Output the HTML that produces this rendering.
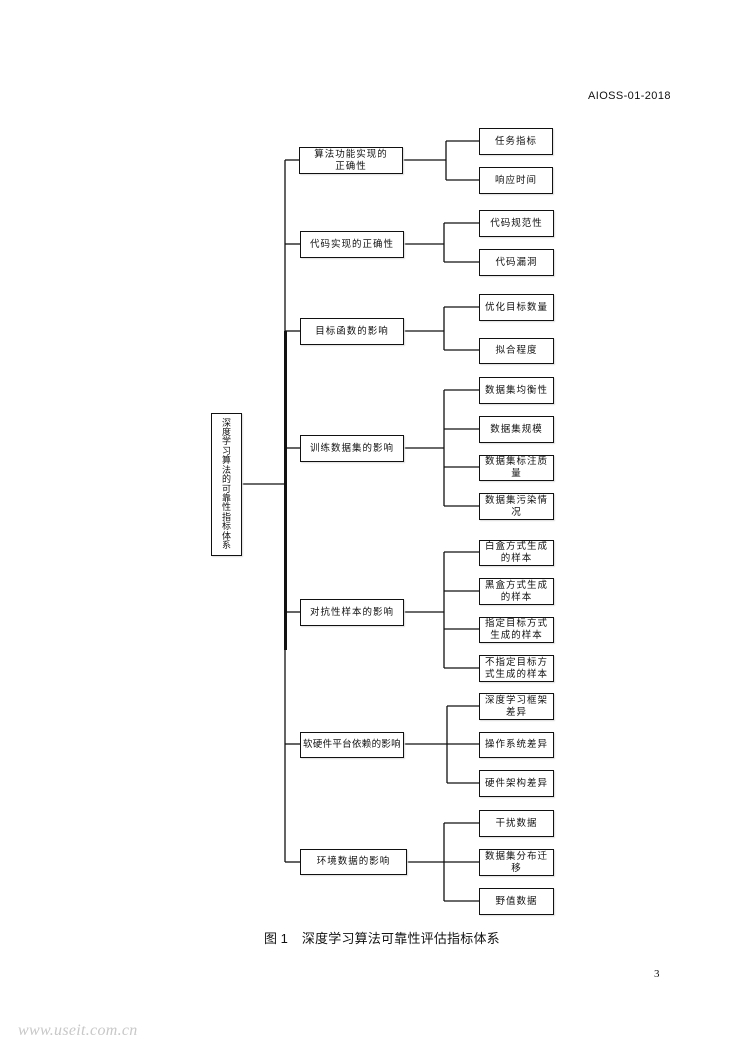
<!DOCTYPE html>
<html><head><meta charset="utf-8">
<style>
html,body{margin:0;padding:0;background:#fff;}
#p{position:relative;width:744px;height:1052px;overflow:hidden;background:#fff;font-family:"Liberation Sans","Noto Sans CJK SC",sans-serif;color:#111;}
.b{position:absolute;box-sizing:border-box;border:1.3px solid #111;background:#fff;display:flex;align-items:center;justify-content:center;text-align:center;font-size:9.5px;line-height:12px;letter-spacing:1px;box-shadow:1px 1px 1px #ddd;white-space:nowrap;}
svg{position:absolute;left:0;top:0;}
</style></head><body><div id="p">
<div style="position:absolute;left:588px;top:90px;font-size:11px;letter-spacing:0.4px;">AIOSS-01-2018</div>

<svg width="744" height="1052" stroke="#111" stroke-width="1.3" fill="none">
<line x1="285" y1="160" x2="285" y2="862"/>
<line x1="285.5" y1="331" x2="285.5" y2="650" stroke-width="3"/>
<line x1="241" y1="484" x2="285" y2="484"/>
<line x1="285" y1="160" x2="300" y2="160"/>
<line x1="285" y1="244" x2="300" y2="244"/>
<line x1="285" y1="331" x2="300" y2="331"/>
<line x1="285" y1="448" x2="300" y2="448"/>
<line x1="285" y1="612" x2="300" y2="612"/>
<line x1="285" y1="744" x2="300" y2="744"/>
<line x1="285" y1="862" x2="300" y2="862"/>
<line x1="402" y1="160" x2="446" y2="160"/><line x1="446" y1="141" x2="446" y2="180"/>
<line x1="446" y1="141" x2="479" y2="141"/><line x1="446" y1="180" x2="479" y2="180"/>
<line x1="403" y1="244" x2="444" y2="244"/><line x1="444" y1="223" x2="444" y2="262"/>
<line x1="444" y1="223" x2="479" y2="223"/><line x1="444" y1="262" x2="479" y2="262"/>
<line x1="403" y1="331" x2="444" y2="331"/><line x1="444" y1="307" x2="444" y2="350"/>
<line x1="444" y1="307" x2="479" y2="307"/><line x1="444" y1="350" x2="479" y2="350"/>
<line x1="403" y1="448" x2="444" y2="448"/><line x1="444" y1="390" x2="444" y2="506"/>
<line x1="444" y1="390" x2="479" y2="390"/><line x1="444" y1="429" x2="479" y2="429"/>
<line x1="444" y1="467" x2="479" y2="467"/><line x1="444" y1="506" x2="479" y2="506"/>
<line x1="403" y1="612" x2="444" y2="612"/><line x1="444" y1="552" x2="444" y2="668"/>
<line x1="444" y1="552" x2="479" y2="552"/><line x1="444" y1="591" x2="479" y2="591"/>
<line x1="444" y1="629" x2="479" y2="629"/><line x1="444" y1="668" x2="479" y2="668"/>
<line x1="403" y1="744" x2="447" y2="744"/><line x1="447" y1="706" x2="447" y2="783"/>
<line x1="447" y1="706" x2="479" y2="706"/><line x1="447" y1="744" x2="479" y2="744"/>
<line x1="447" y1="783" x2="479" y2="783"/>
<line x1="406" y1="862" x2="479" y2="862"/><line x1="444" y1="823" x2="444" y2="901"/>
<line x1="444" y1="823" x2="479" y2="823"/><line x1="444" y1="901" x2="479" y2="901"/>
</svg>

<div class="b" style="left:211px;top:413px;width:31px;height:143px;line-height:9.4px;font-size:9px;letter-spacing:0;">深<br>度<br>学<br>习<br>算<br>法<br>的<br>可<br>靠<br>性<br>指<br>标<br>体<br>系</div>

<div class="b" style="left:299px;top:147px;width:104px;height:27px;">算法功能实现的<br>正确性</div>
<div class="b" style="left:300px;top:231px;width:104px;height:27px;">代码实现的正确性</div>
<div class="b" style="left:300px;top:318px;width:104px;height:27px;">目标函数的影响</div>
<div class="b" style="left:300px;top:435px;width:104px;height:27px;">训练数据集的影响</div>
<div class="b" style="left:300px;top:599px;width:104px;height:27px;">对抗性样本的影响</div>
<div class="b" style="left:300px;top:732px;width:104px;height:26px;letter-spacing:0.3px;">软硬件平台依赖的影响</div>
<div class="b" style="left:300px;top:849px;width:107px;height:26px;">环境数据的影响</div>

<div class="b" style="left:479px;top:128px;width:74px;height:27px;">任务指标</div>
<div class="b" style="left:479px;top:167px;width:74px;height:27px;">响应时间</div>
<div class="b" style="left:479px;top:210px;width:75px;height:27px;">代码规范性</div>
<div class="b" style="left:479px;top:249px;width:75px;height:27px;">代码漏洞</div>
<div class="b" style="left:479px;top:294px;width:75px;height:27px;">优化目标数量</div>
<div class="b" style="left:479px;top:338px;width:75px;height:26px;">拟合程度</div>
<div class="b" style="left:479px;top:377px;width:75px;height:27px;">数据集均衡性</div>
<div class="b" style="left:479px;top:416px;width:75px;height:27px;">数据集规模</div>
<div class="b" style="left:479px;top:455px;width:75px;height:26px;">数据集标注质<br>量</div>
<div class="b" style="left:479px;top:493px;width:75px;height:27px;">数据集污染情<br>况</div>
<div class="b" style="left:479px;top:540px;width:75px;height:26px;">白盒方式生成<br>的样本</div>
<div class="b" style="left:479px;top:578px;width:75px;height:27px;">黑盒方式生成<br>的样本</div>
<div class="b" style="left:479px;top:617px;width:75px;height:26px;">指定目标方式<br>生成的样本</div>
<div class="b" style="left:479px;top:655px;width:75px;height:27px;">不指定目标方<br>式生成的样本</div>
<div class="b" style="left:479px;top:693px;width:75px;height:27px;">深度学习框架<br>差异</div>
<div class="b" style="left:479px;top:732px;width:75px;height:26px;">操作系统差异</div>
<div class="b" style="left:479px;top:770px;width:75px;height:27px;">硬件架构差异</div>
<div class="b" style="left:479px;top:810px;width:75px;height:27px;">干扰数据</div>
<div class="b" style="left:479px;top:849px;width:75px;height:27px;">数据集分布迁<br>移</div>
<div class="b" style="left:479px;top:888px;width:75px;height:27px;">野值数据</div>

<div style="position:absolute;left:264px;top:931px;font-size:13px;line-height:16px;white-space:nowrap;">图 1<span style="display:inline-block;width:14px"></span><span style="letter-spacing:0.2px">深度学习算法可靠性评估指标体系</span></div>
<div style="position:absolute;left:654px;top:968px;font-family:'Liberation Serif',serif;font-size:11px;">3</div>
<div style="position:absolute;left:18px;top:1022px;font-family:'Liberation Serif',serif;font-style:italic;font-size:16px;color:#c8c8c8;letter-spacing:0.3px;">www.useit.com.cn</div>
</div></body></html>
